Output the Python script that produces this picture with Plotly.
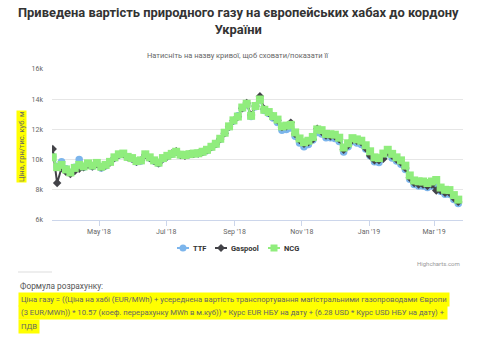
import pandas as pd
import plotly.graph_objects as go

# Observation dates (every 4 days, Mar 2018 - Mar 2019)
dates = pd.date_range("2018-03-20", periods=93, freq="4D")

# Delivered price to the Ukrainian border, UAH per thousand m3
ttf = [10200, 9550, 9850, 9400, 9150, 9500, 10000, 9500, 9700, 9550,
       9750, 9450, 9600, 9850, 10100, 10300, 10350, 10150, 10050, 9850,
       9900, 10300, 10100, 9900, 9750, 10050, 10200, 10350, 10480, 10300,
       10280, 10330, 10380, 10400, 10480, 10600, 10820, 11020, 11350, 11760,
       12180, 12560, 12900, 13400, 13650, 12850, 13500, 13950, 13250, 13050,
       12750, 12450, 11950, 12000, 12100, 11550, 11100, 10850, 11000, 11300,
       11800, 11700, 11450, 11450, 11400, 11200, 10500, 10850, 11200, 11100,
       11000, 10700, 10250, 9850, 9800, 10150, 10400, 10100, 9900, 9700,
       9350, 8700, 8350, 8250, 8250, 8150, 8250, 8350, 7900, 7700,
       7700, 7350, 7100]

gaspool = [10700, 8450, 9450, 9200, 9050, 9250, 9400, 9500, 9650, 9550,
           9700, 9500, 9600, 9800, 10100, 10300, 10350, 10150, 10050, 9850,
           9950, 10300, 10100, 9900, 9750, 10050, 10200, 10400, 10550, 10300,
           10250, 10350, 10380, 10400, 10500, 10620, 10830, 11030, 11360, 11750,
           12180, 12580, 12830, 13400, 13750, 12950, 13550, 14200, 13350, 13100,
           12850, 12600, 12150, 12200, 12450, 11700, 11300, 11050, 11150, 11350,
           12050, 11850, 11600, 11550, 11550, 11350, 10650, 10950, 11300, 11250,
           11150, 10750, 10250, 9950, 9950, 10050, 10500, 10250, 10000, 9800,
           9450, 8800, 8450, 8350, 8350, 8250, 8350, 7950, 7950, 7800,
           7800, 7450, 7200]

ncg = [10150, 9500, 9650, 9350, 9150, 9450, 9650, 9550, 9750, 9600,
       9780, 9530, 9650, 9850, 10150, 10350, 10400, 10180, 10100, 9900,
       9950, 10350, 10150, 9950, 9800, 10100, 10250, 10380, 10520, 10330,
       10300, 10360, 10400, 10420, 10520, 10650, 10850, 11050, 11380, 11780,
       12200, 12600, 12850, 13450, 13700, 12900, 13550, 13980, 13300, 13150,
       12880, 12650, 12200, 12250, 12300, 11800, 11400, 11150, 11250, 11500,
       12000, 11950, 11700, 11680, 11650, 11450, 10800, 11080, 11420, 11340,
       11250, 10950, 10550, 10150, 10100, 10400, 10650, 10380, 10150, 9950,
       9600, 8950, 8620, 8560, 8550, 8450, 8550, 8650, 8150, 8000,
       7980, 7650, 7350]

y_ticks = [6000, 8000, 10000, 12000, 14000, 16000]
y_tick_labels = ["6k", "8k", "10k", "12k", "14k", "16k"]

series = [
    ("TTF", ttf, "#7cb5ec", "circle", 7.5),
    ("Gaspool", gaspool, "#434348", "diamond", 6.5),
    ("NCG", ncg, "#90ed7d", "square", 8),
]

W, H = 490, 341
L, R, T, B = 52, 27, 69, 121
PW, PH = W - L - R, H - T - B


def px(x):
    return (x - L) / PW


def py(y):
    return (H - B - y) / PH


fig = go.Figure()
for name, vals, color, symbol, size in series:
    fig.add_trace(go.Scatter(
        x=dates, y=vals, name=name, mode="lines+markers",
        line=dict(color=color, width=2),
        marker=dict(symbol=symbol, size=size, color=color),
        showlegend=False,
    ))

FONT = "Roboto"
fig.update_layout(
    width=W, height=H,
    margin=dict(l=L, r=R, t=T, b=B),
    paper_bgcolor="white", plot_bgcolor="white",
    font=dict(family=FONT, color="#666666"),
    xaxis=dict(
        type="date", range=["2018-03-19 08:00", "2019-03-27 07:00"],
        tick0="2018-05-01", dtick="M2", tickformat="%b '%y",
        ticks="outside", ticklen=5, tickcolor="#ccd6eb",
        showline=True, linecolor="#ccd6eb", linewidth=1,
        showgrid=False, zeroline=False,
        tickfont=dict(size=7, color="#666666"),
    ),
    yaxis=dict(
        range=[6000, 16000], tickvals=y_ticks, ticktext=y_tick_labels,
        gridcolor="#e6e6e6", showline=False, zeroline=False,
        ticklabelstandoff=8, tickfont=dict(size=7, color="#666666"),
    ),
)

# Compact legend row: short line with marker, then bold series name
legend_y = 248
legend_pos = {"TTF": 183, "Gaspool": 221, "NCG": 274}
for name, vals, color, symbol, size in series:
    cx = legend_pos[name]
    fig.add_shape(type="line", xref="paper", yref="paper",
                  x0=px(cx - 6), x1=px(cx + 6), y0=py(legend_y), y1=py(legend_y),
                  line=dict(color=color, width=2))
    r = 3.5
    if symbol == "circle":
        fig.add_shape(type="circle", xref="paper", yref="paper",
                      x0=px(cx - r), x1=px(cx + r), y0=py(legend_y + r), y1=py(legend_y - r),
                      fillcolor=color, line=dict(color=color, width=0))
    elif symbol == "square":
        fig.add_shape(type="rect", xref="paper", yref="paper",
                      x0=px(cx - r), x1=px(cx + r), y0=py(legend_y + r), y1=py(legend_y - r),
                      fillcolor=color, line=dict(color=color, width=0))
    else:
        d = 4
        path = (f"M {px(cx)} {py(legend_y - d)} L {px(cx + d)} {py(legend_y)} "
                f"L {px(cx)} {py(legend_y + d)} L {px(cx - d)} {py(legend_y)} Z")
        fig.add_shape(type="path", xref="paper", yref="paper", path=path,
                      fillcolor=color, line=dict(color=color, width=0))
    fig.add_annotation(
        text=name, xref="paper", yref="paper", x=px(cx + 8), y=py(legend_y),
        xanchor="left", yanchor="middle", showarrow=False,
        font=dict(size=7.5, color="#333333", family=FONT, weight="bold"),
    )

# Title and subtitle
fig.add_annotation(
    text="Приведена вартість природного газу на європейських хабах до кордону<br>України",
    xref="paper", yref="paper", x=px(238), y=py(21), xanchor="center", yanchor="middle",
    showarrow=False, font=dict(size=12.9, color="#333333", family=FONT, weight="bold"),
)
fig.add_annotation(
    text="Натисніть на назву кривої, щоб сховати/показати її",
    xref="paper", yref="paper", x=px(238), y=py(55), xanchor="center", yanchor="middle",
    showarrow=False, font=dict(size=7.5, color="#666666", family=FONT),
)

# Highlighted y-axis title
fig.add_annotation(
    text="Ціна, грн/тис. куб. м", textangle=-90,
    xref="paper", yref="paper", x=px(21), y=py(146), xanchor="center", yanchor="middle",
    showarrow=False, bgcolor="#ffff00", borderpad=0,
    font=dict(size=7.5, color="#666666", family=FONT),
)

# Credit
fig.add_annotation(
    text="Highcharts.com", xref="paper", yref="paper", x=px(462), y=py(263),
    xanchor="right", yanchor="middle", showarrow=False,
    font=dict(size=6, color="#999999", family=FONT),
)

# Separator and calculation formula below the chart
fig.add_shape(type="line", xref="paper", yref="paper",
              x0=px(18), x1=px(52), y0=py(272), y1=py(272),
              line=dict(color="#dddddd", width=1))
fig.add_annotation(
    text="Формула розрахунку:", xref="paper", yref="paper", x=px(18), y=py(286),
    xanchor="left", yanchor="middle", showarrow=False,
    font=dict(size=8.3, color="#555555", family=FONT),
)
formula_lines = [
    "Ціна газу = ((Ціна на хабі (EUR/MWh) + усереднена вартість транспортування магістральними газопроводами Європи",
    "(3 EUR/MWh)) * 10.57 (коеф. перерахунку MWh в м.куб)) * Курс EUR НБУ на дату + (6.28 USD * Курс USD НБУ на дату) +",
    "ПДВ",
]
for i, line in enumerate(formula_lines):
    fig.add_annotation(
        text=line, xref="paper", yref="paper", x=px(18), y=py(299 + 13.5 * i),
        xanchor="left", yanchor="middle", showarrow=False,
        bgcolor="#ffff00", borderpad=2,
        font=dict(size=7.7, color="#666666", family=FONT),
    )

fig.write_html("out.html")
